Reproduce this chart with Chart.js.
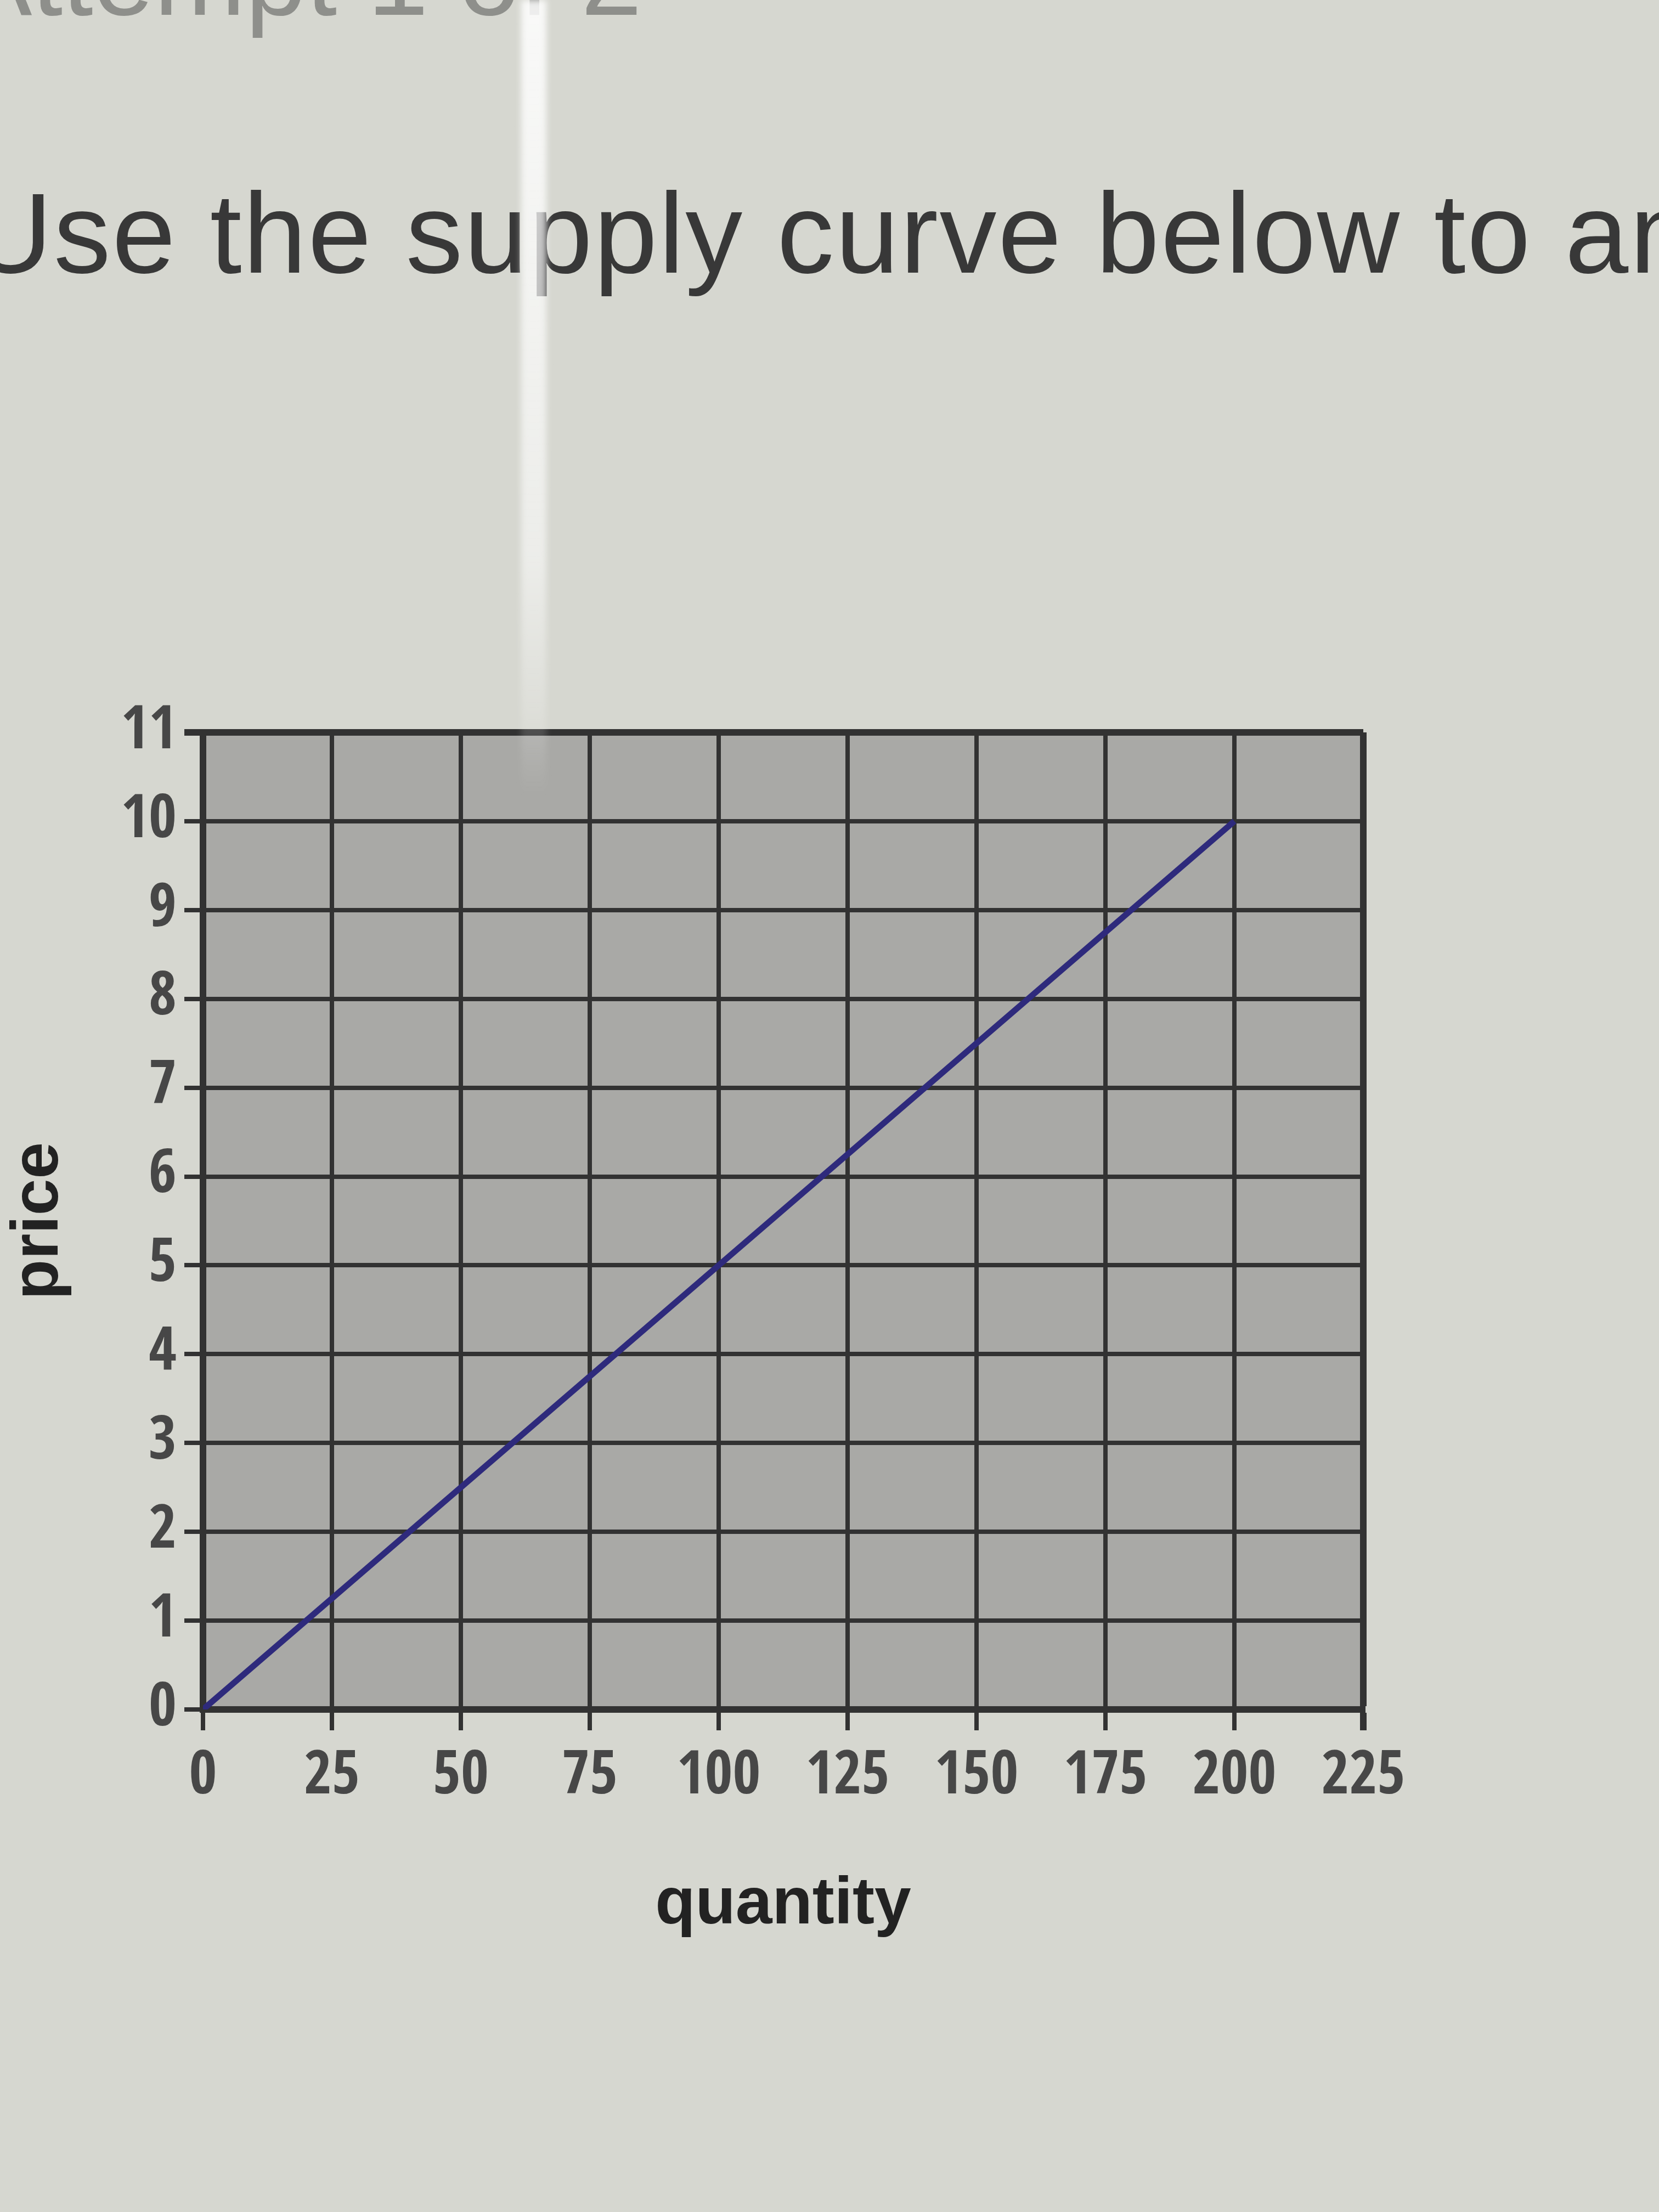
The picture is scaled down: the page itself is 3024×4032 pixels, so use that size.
<!DOCTYPE html>
<html>
<head>
<meta charset="utf-8">
<script src="https://cdn.jsdelivr.net/npm/chart.js@4.4.1/dist/chart.umd.min.js"></script>
<style>
  html, body { margin: 0; padding: 0; }
  body {
    width: 3024px; height: 4032px;
    background: #d6d7d0;
    position: relative; overflow: hidden;
    font-family: "Liberation Sans", Arial, sans-serif;
  }
  .attempt {
    position: absolute; left: -75px; top: -142px;
    font-size: 200px; line-height: 200px;
    color: #8e8f8b; white-space: nowrap;
  }
  .prompt {
    position: absolute; left: -55px; top: 321px;
    font-size: 208px; line-height: 208px; letter-spacing: 2.5px;
    color: #383838; white-space: nowrap;
  }
  .glare {
    position: absolute; left: 950px; top: 0; width: 46px; height: 1450px;
    background: linear-gradient(to bottom, rgba(255,255,255,0.85), rgba(255,255,255,0.55) 70%, rgba(255,255,255,0));
    filter: blur(6px);
  }
  #wrap { position: absolute; left: 0; top: 1200px; }
</style>
</head>
<body>
<div class="attempt">Attempt 1 of 2</div>
<div class="prompt">Use the supply curve below to answer</div>
<div id="wrap"><canvas id="chart-supply" width="2700" height="2333"></canvas></div>
<div class="glare"></div>

<script>
// ─── 1. DATA ─────────────────────────────────────────────────────────────────
const quantity = [0, 200];
const price    = [0, 10];

const xTicks = [0, 25, 50, 75, 100, 125, 150, 175, 200, 225];
const yTicks = [0, 1, 2, 3, 4, 5, 6, 7, 8, 9, 10, 11];

const xMax = xTicks[xTicks.length - 1];
const yMax = yTicks[yTicks.length - 1];


// ─── 2. STYLE ────────────────────────────────────────────────────────────────
const gridColor  = '#323232';
// narrow tick digits, as in the screenshot
const tickFont   = { family: "'Open Sans Condensed', 'Open Sans', sans-serif", size: 110 };
const titleFont  = { family: "'Liberation Sans', Arial, sans-serif", size: 120, weight: 'bold', lineHeight: 1 };

// grey background of the plot area
const plotBg = {
  id: 'plotBg',
  beforeDraw(chart) {
    const { ctx, chartArea: { left, top, width, height } } = chart;
    ctx.save();
    ctx.fillStyle = '#a9a9a6';
    ctx.fillRect(left, top, width, height);
    ctx.restore();
  }
};


// ─── 3. CHART ────────────────────────────────────────────────────────────────
const ctx = document.getElementById('chart-supply').getContext('2d');
new Chart(ctx, {
  type: 'scatter',
  data: {
    datasets: [{
      label: 'supply',
      data: quantity.map((q, i) => ({ x: q, y: price[i] })),
      showLine: true,
      borderColor: '#2e2a7c',
      borderWidth: 11,
      pointRadius: 0,
      fill: false
    }]
  },
  plugins: [plotBg],
  options: {
    responsive: false,
    animation: false,
    devicePixelRatio: 1,
    layout: { padding: { top: 135, right: 215, left: 0, bottom: 0 } },
    plugins: {
      legend:  { display: false },
      tooltip: { enabled: false }
    },
    scales: {
      x: {
        type: 'linear',
        min: xTicks[0],
        max: xMax,
        ticks: {
          stepSize: xTicks[1] - xTicks[0],
          color: '#474747',
          font: tickFont,
          padding: 20,
          maxRotation: 0
        },
        grid: {
          color: gridColor,
          lineWidth: c => (c.tick && c.tick.value === xMax) ? 12 : 8,
          tickLength: 38
        },
        border: { color: gridColor, width: 12 },
        title: {
          display: true,
          text: 'quantity',
          color: '#222',
          font: titleFont,
          padding: { top: 0, bottom: 0 }
        },
        afterFit: s => { s.height = 417; }
      },
      y: {
        type: 'linear',
        min: yTicks[0],
        max: yMax,
        ticks: {
          stepSize: yTicks[1] - yTicks[0],
          color: '#474747',
          font: tickFont,
          padding: 14
        },
        grid: {
          color: gridColor,
          lineWidth: c => (c.tick && c.tick.value === yMax) ? 12 : 8,
          tickLength: 34
        },
        border: { color: gridColor, width: 12 },
        title: {
          display: true,
          text: 'price',
          color: '#222',
          font: titleFont,
          padding: { top: 12, bottom: 0 }
        },
        afterFit: s => { s.width = 370; }
      }
    }
  }
});
</script>
</body>
</html>
